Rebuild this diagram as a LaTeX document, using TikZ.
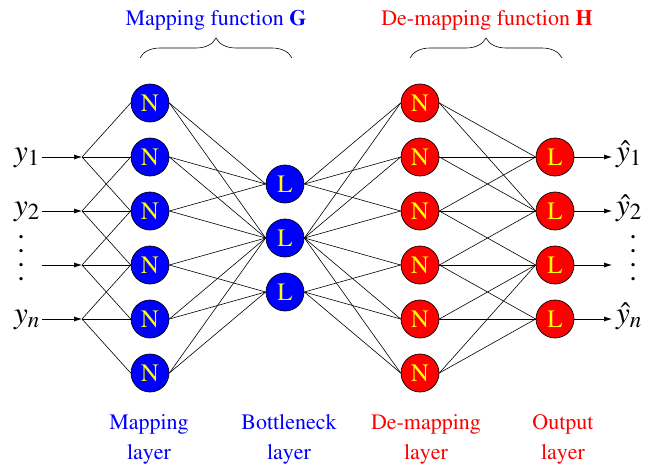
\documentclass[tikz,border=0pt]{standalone}
\usepackage[T1]{fontenc}
\usepackage{mathptmx}
\usetikzlibrary{positioning}
\usetikzlibrary{arrows.meta}
\usetikzlibrary{decorations.pathreplacing}

\definecolor{mapblue}{RGB}{0,0,255}
\definecolor{demapred}{RGB}{255,0,0}
\definecolor{lettery}{RGB}{255,255,0}

\tikzset{
  neuron/.style={circle, draw=black, line width=0.7pt, minimum size=38pt, inner sep=0pt, text=lettery, font=\fontsize{25}{25}\selectfont},
  mapnode/.style={neuron, fill=mapblue},
  demapnode/.style={neuron, fill=demapred},
  conn/.style={black, line width=0.6pt},
  io/.style={-{Latex[length=8pt,width=5pt]}, line width=0.6pt},
  varlabel/.style={inner sep=0pt, font=\fontsize{31}{31}\selectfont},
  dotlabel/.style={inner sep=0pt, align=center, font=\fontsize{30}{14}\selectfont},
  caption/.style={inner sep=0pt, align=center, font=\fontsize{22}{30}\selectfont},
  brace/.style={decorate, decoration={brace, amplitude=20pt}, line width=0.6pt},
}

\begin{document}
\begin{tikzpicture}[x=1pt, y=-1pt, node distance=54pt, on grid]
    \useasboundingbox (0,0) rectangle (652,464);
% mapping layer
    \node[mapnode] (m1) at (150,103) {N} ; %
    \node[mapnode, below=of m1] (m2) {N} ; %
    \node[mapnode, below=of m2] (m3) {N} ; %
    \node[mapnode, below=of m3] (m4) {N} ; %
    \node[mapnode, below=of m4] (m5) {N} ; %
    \node[mapnode, below=of m5] (m6) {N} ; %
% bottleneck layer
    \node[mapnode] (b2) at (285,238) {L} ; %
    \node[mapnode, above=of b2] (b1) {L} ; %
    \node[mapnode, below=of b2] (b3) {L} ; %
% de-mapping layer
    \node[demapnode] (d1) at (420,103) {N} ; %
    \node[demapnode, below=of d1] (d2) {N} ; %
    \node[demapnode, below=of d2] (d3) {N} ; %
    \node[demapnode, below=of d3] (d4) {N} ; %
    \node[demapnode, below=of d4] (d5) {N} ; %
    \node[demapnode, below=of d5] (d6) {N} ; %
% output layer
    \node[demapnode] (o1) at (555,157) {L} ; %
    \node[demapnode, below=of o1] (o2) {L} ; %
    \node[demapnode, below=of o2] (o3) {L} ; %
    \node[demapnode, below=of o3] (o4) {L} ; %
% inputs
    \coordinate (f1) at (82,157) ; %
    \coordinate[below=of f1] (f2) ; %
    \coordinate[below=of f2] (f3) ; %
    \coordinate[below=of f3] (f4) ; %
    \coordinate (s1) at (42,157) ; %
    \coordinate[below=of s1] (s2) ; %
    \coordinate[below=of s2] (s3) ; %
    \coordinate[below=of s3] (s4) ; %
    \node[varlabel, anchor=base east] (y1) at (40,161) {$y_1$} ; %
    \node[varlabel, anchor=base east] (y2) at (40,215) {$y_2$} ; %
    \node[dotlabel] (ydots) at (21,258) {.\\.\\.\\.} ; %
    \node[varlabel, anchor=base east] (yn) at (40,323) {$y_n$} ; %
% outputs
    \coordinate (t1) at (612,157) ; %
    \coordinate[below=of t1] (t2) ; %
    \coordinate[below=of t2] (t3) ; %
    \coordinate[below=of t3] (t4) ; %
    \node[varlabel, anchor=base west] (yh1) at (616,161) {$\hat{y}_1$} ; %
    \node[varlabel, anchor=base west] (yh2) at (616,215) {$\hat{y}_2$} ; %
    \node[dotlabel] (yhdots) at (633,258) {.\\.\\.\\.} ; %
    \node[varlabel, anchor=base west] (yhn) at (616,323) {$\hat{y}_n$} ; %
% input and output edges
    \foreach \i in {1,...,4} {
      \draw[io] (s\i) -- (f\i) ;
      \draw[io] (o\i.east) -- (t\i) ;
      \foreach \k in {0,1,2} {
        \pgfmathtruncatemacro\j{\i+\k}
        \draw[conn] (f\i) -- (m\j.west) ;
      }
    }
% mapping -> bottleneck -> de-mapping
    \foreach \i/\j in {1/1,2/1,3/1,1/2,2/2,3/2,4/2,5/2,6/2,4/3,5/3,6/3} {
      \draw[conn] (m\i.east) -- (b\j.west) ;
      \draw[conn] (b\j.east) -- (d\i.west) ;
    }
% de-mapping -> output
    \foreach \i/\k in {1/1,1/2,2/1,2/2,3/1,3/2,3/3,4/2,4/3,4/4,5/3,5/4,6/3,6/4}
      \draw[conn] (d\i.east) -- (o\k.west) ;
% functions
    \coordinate (gl) at (140,58) ; %
    \coordinate (gr) at (292,58) ; %
    \coordinate (hl) at (410,58) ; %
    \coordinate (hr) at (562,58) ; %
    \draw[brace] (gl) -- (gr) ;
    \draw[brace] (hl) -- (hr) ;
    \node[caption, text=mapblue] (G) at (216,20) {Mapping function \textbf{G}} ; %
    \node[caption, text=demapred] (H) at (487,20) {De-mapping function \textbf{H}} ; %
% layer names
    \node[caption, text=mapblue] (map_layer) at (149,439) {Mapping\\layer} ; %
    \node[caption, text=mapblue] (bottle_layer) at (289,439) {Bottleneck\\layer} ; %
    \node[caption, text=demapred] (demap_layer) at (426,439) {De-mapping\\layer} ; %
    \node[caption, text=demapred] (out_layer) at (563,439) {Output\\layer} ; %
\end{tikzpicture}
\end{document}
